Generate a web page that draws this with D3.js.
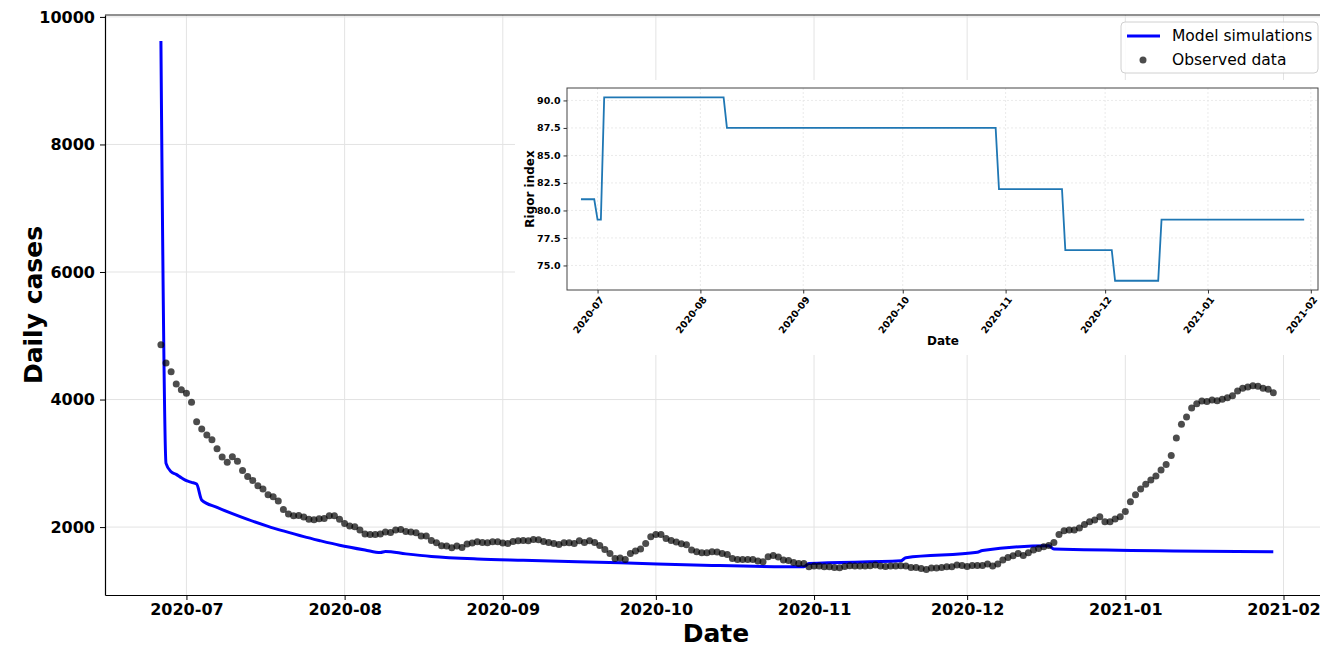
<!DOCTYPE html>
<html lang="en">
<head>
  <meta charset="UTF-8" />
  <title>Daily cases vs model</title>
  <script src="https://d3js.org/d3.v7.min.js"></script>
  <style>
    body { margin: 0; background: #fff; }
    svg { display: block; font-family: "DejaVu Sans", sans-serif; }
  </style>
</head>
<body>
  <svg id="chart" width="1320" height="649"></svg>

  <script>
    // --- data (day index counted from 2020-06-26) ---
    const startDate = new Date(Date.UTC(2020, 5, 26));

    // observed daily cases, one per day, 2020-06-26 .. 2021-01-30
    const observed = [
      4860, 4573, 4436, 4243, 4154, 4097, 3956, 3652, 3537, 3443,
      3370, 3228, 3098, 3015, 3103, 3031, 2889, 2795, 2732, 2648,
      2596, 2507, 2476, 2408, 2277, 2204, 2177, 2183, 2157, 2121,
      2115, 2130, 2136, 2177, 2177, 2121, 2058, 2016, 2005, 1953,
      1890, 1885, 1885, 1890, 1922, 1917, 1953, 1964, 1932, 1922,
      1911, 1859, 1859, 1791, 1754, 1707, 1702, 1675, 1702, 1681,
      1733, 1749, 1770, 1760, 1754, 1770, 1770, 1749, 1744, 1775,
      1786, 1788, 1786, 1807, 1801, 1775, 1760, 1744, 1728, 1754,
      1754, 1744, 1786, 1760, 1786, 1760, 1713, 1650, 1587, 1509,
      1514, 1493, 1587, 1624, 1655, 1744, 1848, 1885, 1885, 1822,
      1791, 1765, 1738, 1723, 1639, 1613, 1597, 1597, 1613, 1608,
      1587, 1572, 1509, 1493, 1493, 1493, 1493, 1467, 1456, 1534,
      1556, 1529, 1482, 1477, 1446, 1430, 1430, 1377, 1388, 1388,
      1377, 1377, 1367, 1362, 1383, 1393, 1388, 1388, 1388, 1393,
      1404, 1388, 1383, 1390, 1388, 1393, 1388, 1367, 1367, 1351,
      1336, 1357, 1357, 1367, 1377, 1377, 1404, 1398, 1383, 1398,
      1398, 1398, 1420, 1388, 1420, 1482, 1524, 1550, 1587, 1556,
      1597, 1639, 1665, 1691, 1712, 1760, 1885, 1942, 1953, 1953,
      1985, 2042, 2083, 2110, 2162, 2083, 2083, 2125, 2162, 2246,
      2397, 2507, 2596, 2670, 2737, 2800, 2894, 2983, 3124, 3396,
      3611, 3725, 3867, 3934, 3976, 3971, 3992, 3981, 4003, 4029,
      4060, 4133, 4176, 4196, 4217, 4207, 4176, 4160, 4107
    ];

    // model simulation, read at these day indices
    const modelDays = [0, 1, 2, 3, 4, 5, 6, 7, 8, 11, 14, 17, 21, 24, 28, 31, 35, 40, 43, 44,
      48, 53, 62, 71, 90, 108, 126, 127, 145, 146, 160, 161, 174, 175, 218];
    const modelValues = [9624, 3000, 2868, 2826, 2774, 2727, 2701, 2675, 2424, 2310, 2210, 2120,
      2012, 1940, 1850, 1790, 1715, 1640, 1600, 1618, 1580, 1540, 1500, 1478, 1440, 1399, 1377,
      1430, 1471, 1520, 1605, 1634, 1707, 1655, 1613];

    // rigor (stringency) index, step changes
    const rigorDays = [0, 4, 5, 6, 7, 43, 44, 125, 126, 145, 146, 160, 161, 174, 175, 218];
    const rigorValues = [81.02, 81.02, 79.17, 79.17, 90.28, 90.28, 87.5, 87.5, 81.94, 81.94,
      76.39, 76.39, 73.61, 73.61, 79.17, 79.17];

    const yTicks = [2000, 4000, 6000, 8000, 10000];
    const rigorTicks = [75.0, 77.5, 80.0, 82.5, 85.0, 87.5, 90.0];

    const day = i => d3.utcDay.offset(startDate, i);
    const hoursOff = (i, h) => d3.utcHour.offset(day(i), h);

    const svg = d3.select("#chart");
    const fmt = d3.utcFormat("%Y-%m");

    // --- main axes ---
    const x = d3.scaleUtc()
      .domain([hoursOff(0, -10.95 * 24), hoursOff(218, 10.95 * 24)])
      .range([105, 1329]);
    const y = d3.scaleLinear()
      .domain([935, 10030])
      .range([595, 15]);

    const months = d3.utcMonth.range(new Date(Date.UTC(2020, 6, 1)), new Date(Date.UTC(2021, 1, 2)));

    // grid
    const grid = svg.append("g").attr("stroke", "#e3e3e3").attr("stroke-width", 1);
    grid.selectAll(".gx").data(months).join("line")
      .attr("x1", d => x(d)).attr("x2", d => x(d))
      .attr("y1", 15).attr("y2", 595);
    grid.selectAll(".gy").data(yTicks).join("line")
      .attr("x1", 105).attr("x2", 1320)
      .attr("y1", d => y(d)).attr("y2", d => y(d));

    // model line
    const model = modelDays.map((d, i) => ({ date: day(d), v: modelValues[i] }));
    svg.append("path")
      .datum(model)
      .attr("fill", "none")
      .attr("stroke", "#0000ff")
      .attr("stroke-width", 3)
      .attr("stroke-linejoin", "round")
      .attr("d", d3.line().curve(d3.curveMonotoneX).x(d => x(d.date)).y(d => y(d.v)));

    // observed points
    svg.append("g")
      .selectAll("circle")
      .data(observed)
      .join("circle")
      .attr("cx", (d, i) => x(day(i)))
      .attr("cy", d => y(d))
      .attr("r", 3.5)
      .attr("fill", "#000")
      .attr("fill-opacity", 0.7);

    // axes
    const xAxis = svg.append("g")
      .attr("transform", "translate(0,595)")
      .call(d3.axisBottom(x).tickValues(months).tickFormat(fmt).tickSize(5).tickSizeOuter(0).tickPadding(4));
    const yAxis = svg.append("g")
      .attr("transform", "translate(105,0)")
      .call(d3.axisLeft(y).tickValues(yTicks).tickFormat(d3.format("d")).tickSize(5).tickSizeOuter(0).tickPadding(5));
    [xAxis, yAxis].forEach(g => {
      g.selectAll("text").attr("font-size", "16px").attr("font-weight", "bold")
        .attr("font-family", "DejaVu Sans").attr("fill", "#000");
      g.select(".domain").attr("stroke", "#000").attr("stroke-width", 1.2);
      g.selectAll(".tick line").attr("stroke", "#000");
    });
    svg.append("line")
      .attr("x1", 105).attr("x2", 1320).attr("y1", 15).attr("y2", 15)
      .attr("stroke", "#222").attr("stroke-width", 1.2);

    svg.append("text")
      .attr("x", 716).attr("y", 642)
      .attr("text-anchor", "middle")
      .attr("font-size", "25px").attr("font-weight", "bold")
      .text("Date");
    svg.append("text")
      .attr("transform", "translate(42,305) rotate(-90)")
      .attr("text-anchor", "middle")
      .attr("font-size", "25px").attr("font-weight", "bold")
      .text("Daily cases");

    // --- inset: rigor index ---
    svg.append("rect")
      .attr("x", 515).attr("y", 80).attr("width", 805).attr("height", 275)
      .attr("fill", "#fff");

    const ix = d3.scaleUtc()
      .domain([hoursOff(0, -4.2 * 24), hoursOff(218, 4.2 * 24)])
      .range([567, 1318]);
    const iy = d3.scaleLinear()
      .domain([72.77, 91.13])
      .range([290, 88]);

    const inset = svg.append("g");
    const igrid = inset.append("g").attr("stroke", "#e4e4e4").attr("stroke-width", 0.8)
      .attr("stroke-dasharray", "2,2");
    igrid.selectAll(".ix").data(months).join("line")
      .attr("x1", d => ix(d)).attr("x2", d => ix(d))
      .attr("y1", 88).attr("y2", 290);
    igrid.selectAll(".iy").data(rigorTicks).join("line")
      .attr("x1", 567).attr("x2", 1318)
      .attr("y1", d => iy(d)).attr("y2", d => iy(d));

    const rigor = rigorDays.map((d, i) => ({ date: day(d), v: rigorValues[i] }));
    inset.append("path")
      .datum(rigor)
      .attr("fill", "none")
      .attr("stroke", "#1f77b4")
      .attr("stroke-width", 1.8)
      .attr("d", d3.line().x(d => ix(d.date)).y(d => iy(d.v)));

    inset.append("rect")
      .attr("x", 567).attr("y", 88).attr("width", 751).attr("height", 202)
      .attr("fill", "none").attr("stroke", "#444").attr("stroke-width", 1);

    const ixAxis = inset.append("g")
      .attr("transform", "translate(0,290)")
      .call(d3.axisBottom(ix).tickValues(months).tickFormat(fmt).tickSize(3.5).tickSizeOuter(0).tickPadding(2));
    ixAxis.selectAll("text")
      .attr("text-anchor", "end")
      .attr("transform", "rotate(-52)")
      .attr("dx", "-0.4em").attr("dy", "0.6em");
    const iyAxis = inset.append("g")
      .attr("transform", "translate(567,0)")
      .call(d3.axisLeft(iy).tickValues(rigorTicks).tickFormat(d3.format(".1f")).tickSize(3.5).tickSizeOuter(0).tickPadding(3));
    [ixAxis, iyAxis].forEach(g => {
      g.selectAll("text").attr("font-size", "9.5px").attr("font-weight", "bold")
        .attr("font-family", "DejaVu Sans").attr("fill", "#000");
      g.select(".domain").remove();
      g.selectAll(".tick line").attr("stroke", "#333");
    });

    inset.append("text")
      .attr("x", 943).attr("y", 345)
      .attr("text-anchor", "middle")
      .attr("font-size", "12px").attr("font-weight", "bold")
      .text("Date");
    inset.append("text")
      .attr("transform", "translate(534,189) rotate(-90)")
      .attr("text-anchor", "middle")
      .attr("font-size", "12px").attr("font-weight", "bold")
      .text("Rigor index");

    // --- legend ---
    const legend = svg.append("g");
    legend.append("rect")
      .attr("x", 1121).attr("y", 22).attr("width", 197).attr("height", 51).attr("rx", 4)
      .attr("fill", "#fff").attr("fill-opacity", 0.85)
      .attr("stroke", "#d0d0d0");
    legend.append("line")
      .attr("x1", 1127).attr("x2", 1160).attr("y1", 36).attr("y2", 36)
      .attr("stroke", "#0000ff").attr("stroke-width", 3);
    legend.append("circle")
      .attr("cx", 1143).attr("cy", 60).attr("r", 3.5)
      .attr("fill", "#000").attr("fill-opacity", 0.7);
    legend.append("text").attr("x", 1172).attr("y", 41)
      .attr("font-size", "15.5px").text("Model simulations");
    legend.append("text").attr("x", 1172).attr("y", 65)
      .attr("font-size", "15.5px").text("Observed data");
  </script>
</body>
</html>
